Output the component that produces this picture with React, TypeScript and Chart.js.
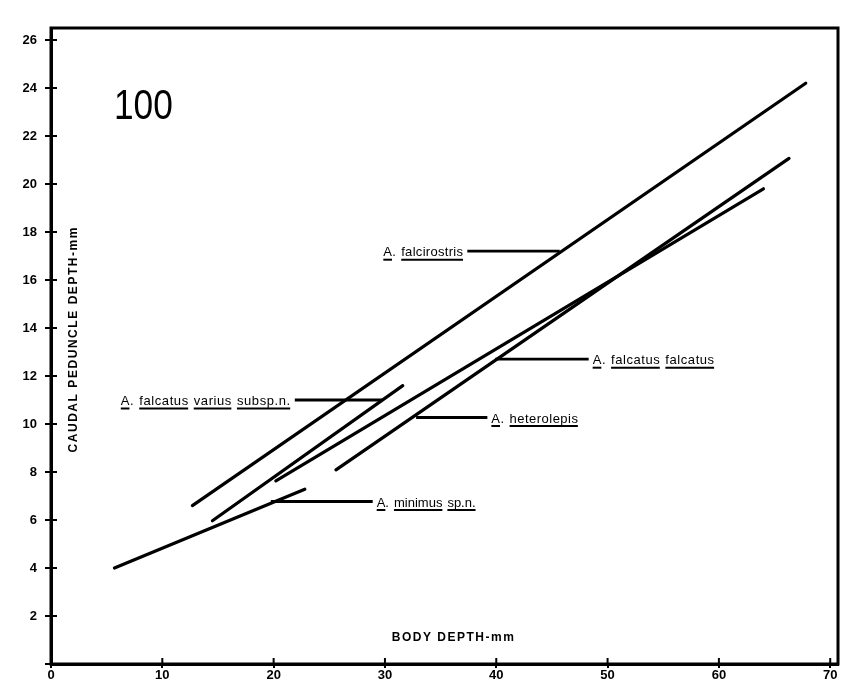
import React, { useEffect, useRef } from 'react';
import { Chart, registerables } from 'chart.js';
Chart.register(...registerables);

// ---- data ----
const speciesNames = [
  'A. falcirostris',
  'A. falcatus varius subsp.n.',
  'A. falcatus falcatus',
  'A. heterolepis',
  'A. minimus sp.n.',
];
const lineStartX = [12.7, 14.5, 20.2, 25.6, 5.7];
const lineStartY = [6.6, 5.97, 7.63, 8.09, 4.0];
const lineEndX = [67.8, 31.6, 64.0, 66.3, 22.8];
const lineEndY = [24.2, 11.6, 19.8, 21.07, 7.28];

// pointer (leader) lines from each label to its regression line
const leaderFromX = [37.4, 21.9, 39.9, 32.8, 19.75];
const leaderToX = [45.7, 29.8, 48.3, 39.2, 28.9];
const leaderY = [17.2, 11.0, 12.7, 10.27, 6.77];
const labelSide = ['left', 'left', 'right', 'right', 'right'];

const xTickValues = [0, 10, 20, 30, 40, 50, 60, 70];
const yTickValues = [2, 4, 6, 8, 10, 12, 14, 16, 18, 20, 22, 24, 26];

const plateNumber = '100';
const xTitle = 'BODY DEPTH-mm';
const yTitle = 'CAUDAL PEDUNCLE DEPTH-mm';

// ---- layout / style (not data) ----
const labelWidths = [80, 170, 122, 87, 98];
const LABEL_FONT = '13px "Liberation Sans"';
const TITLE_FONT = 'bold 12px "Liberation Sans"';
const FAMILY = '"Liberation Sans", Arial, sans-serif';

function drawUnderlinedLabel(ctx: CanvasRenderingContext2D, text: string, anchorX: number, midY: number, side: string, targetW: number) {
  ctx.save();
  ctx.font = LABEL_FONT;
  (ctx as any).letterSpacing = '0px';
  ctx.textAlign = 'left';
  ctx.textBaseline = 'alphabetic';
  const words = text.split(' ');
  const wordGap = 5;
  let natural = 0;
  let chars = 0;
  words.forEach((w) => { natural += ctx.measureText(w).width; chars += w.length; });
  natural += wordGap * (words.length - 1);
  const ls = Math.max(0, Math.min(2, (targetW - natural) / chars));
  (ctx as any).letterSpacing = ls + 'px';
  const widths = words.map((w) => ctx.measureText(w).width);
  const total = widths.reduce((a, b) => a + b, 0) + wordGap * (words.length - 1);
  let cx = side === 'left' ? anchorX - 4 - total : anchorX + 4;
  const baseline = midY + 5;
  ctx.fillStyle = '#000';
  ctx.strokeStyle = '#000';
  ctx.lineWidth = 2;
  words.forEach((w, i) => {
    ctx.fillText(w, cx, baseline);
    const ul = w === 'A.' ? ctx.measureText('A').width : widths[i];
    ctx.beginPath();
    ctx.moveTo(cx, baseline + 3.5);
    ctx.lineTo(cx + ul - ls, baseline + 3.5);
    ctx.stroke();
    cx += widths[i] + wordGap;
  });
  ctx.restore();
}

function drawSpacedText(ctx: CanvasRenderingContext2D, text: string, cx: number, cy: number, targetW: number) {
  ctx.font = TITLE_FONT;
  (ctx as any).letterSpacing = '0px';
  const nat = ctx.measureText(text).width;
  const ls = Math.max(0, (targetW - nat) / (text.length - 1));
  (ctx as any).letterSpacing = ls + 'px';
  const w = ctx.measureText(text).width - ls;
  ctx.textAlign = 'left';
  ctx.textBaseline = 'middle';
  ctx.fillText(text, cx - w / 2, cy);
  (ctx as any).letterSpacing = '0px';
}

const overlay = {
  id: 'overlay',
  afterDraw(chart: any) {
    const { ctx, chartArea: a, scales } = chart;
    const x = scales.x;
    const y = scales.y;
    ctx.save();
    ctx.strokeStyle = '#000';
    ctx.fillStyle = '#000';
    ctx.lineWidth = 3;
    ctx.strokeRect(a.left, a.top, a.right - a.left, a.bottom - a.top);
    // inner halves of the crossing ticks
    ctx.lineWidth = 2;
    yTickValues.forEach((v) => {
      const py = y.getPixelForValue(v);
      ctx.beginPath();
      ctx.moveTo(a.left, py);
      ctx.lineTo(a.left + 6, py);
      ctx.stroke();
    });
    xTickValues.forEach((v) => {
      if (v === 0) return;
      const px = x.getPixelForValue(v);
      ctx.beginPath();
      ctx.moveTo(px, a.bottom);
      ctx.lineTo(px, a.bottom - 6);
      ctx.stroke();
    });
    // species labels
    speciesNames.forEach((name, i) => {
      const side = labelSide[i];
      const ax = side === 'left' ? x.getPixelForValue(leaderFromX[i]) : x.getPixelForValue(leaderToX[i]);
      const my = y.getPixelForValue(leaderY[i]);
      drawUnderlinedLabel(ctx, name, ax, my, side, labelWidths[i]);
    });
    // plate number
    ctx.save();
    ctx.translate(x.getPixelForValue(8.3), y.getPixelForValue(22.7));
    ctx.scale(0.82, 1);
    ctx.font = '43px "Liberation Sans"';
    ctx.textAlign = 'center';
    ctx.textBaseline = 'alphabetic';
    ctx.fillText(plateNumber, 0, 0);
    ctx.restore();
    // axis titles (inside the frame)
    drawSpacedText(ctx, xTitle, x.getPixelForValue(36.1), y.getPixelForValue(1.1), 122);
    ctx.save();
    ctx.translate(x.getPixelForValue(2.0), y.getPixelForValue(13.5));
    ctx.rotate(-Math.PI / 2);
    drawSpacedText(ctx, yTitle, 0, 0, 225);
    ctx.restore();
    ctx.restore();
  },
};

export default function App() {
  const ref = useRef<HTMLCanvasElement>(null);
  useEffect(() => {
    const canvas = ref.current;
    if (!canvas) return;
    Chart.defaults.font.family = FAMILY;
    const datasets: any[] = [];
    speciesNames.forEach((name, i) => {
      datasets.push({
        label: name,
        data: [
          { x: lineStartX[i], y: lineStartY[i] },
          { x: lineEndX[i], y: lineEndY[i] },
        ],
        showLine: true,
        borderColor: '#000',
        borderWidth: 3.2,
        borderCapStyle: 'round',
        pointRadius: 0,
      });
    });
    speciesNames.forEach((name, i) => {
      datasets.push({
        label: name + ' pointer',
        data: [
          { x: leaderFromX[i], y: leaderY[i] },
          { x: leaderToX[i], y: leaderY[i] },
        ],
        showLine: true,
        borderColor: '#000',
        borderWidth: 2.8,
        pointRadius: 0,
      });
    });
    const chart = new Chart(canvas, {
      type: 'scatter',
      data: { datasets },
      options: {
        responsive: false,
        animation: false,
        layout: { padding: { top: 28, right: 6, left: 0, bottom: 0 } },
        plugins: { legend: { display: false }, tooltip: { enabled: false } },
        scales: {
          x: {
            type: 'linear',
            min: 0,
            max: 70.7,
            afterFit: (s: any) => { s.height = 17; },
            border: { display: true, color: '#000', width: 3 },
            grid: { drawOnChartArea: false, color: '#000', lineWidth: 2, tickLength: 4 },
            ticks: {
              stepSize: 10,
              includeBounds: false,
              color: '#000',
              font: { size: 13, weight: 'bold' },
              padding: 0,
              maxRotation: 0,
              autoSkip: false,
            },
          },
          y: {
            type: 'linear',
            min: 0,
            max: 26.5,
            afterFit: (s: any) => { s.width = 51; },
            border: { display: true, color: '#000', width: 3 },
            grid: { drawOnChartArea: false, color: '#000', lineWidth: 2, tickLength: 6 },
            ticks: {
              stepSize: 2,
              includeBounds: false,
              color: '#000',
              font: { size: 13, weight: 'bold' },
              padding: 8,
              autoSkip: false,
              callback: (v: any) => (v === 0 ? '' : String(v)),
            },
          },
        },
      },
      plugins: [overlay],
    } as any);
    return () => chart.destroy();
  }, []);
  return (
    <div style={{ position: 'absolute', left: 0, top: 0, width: 844, height: 681, background: '#fff' }}>
      <canvas ref={ref} width={844} height={681} style={{ display: 'block' }} />
    </div>
  );
}
